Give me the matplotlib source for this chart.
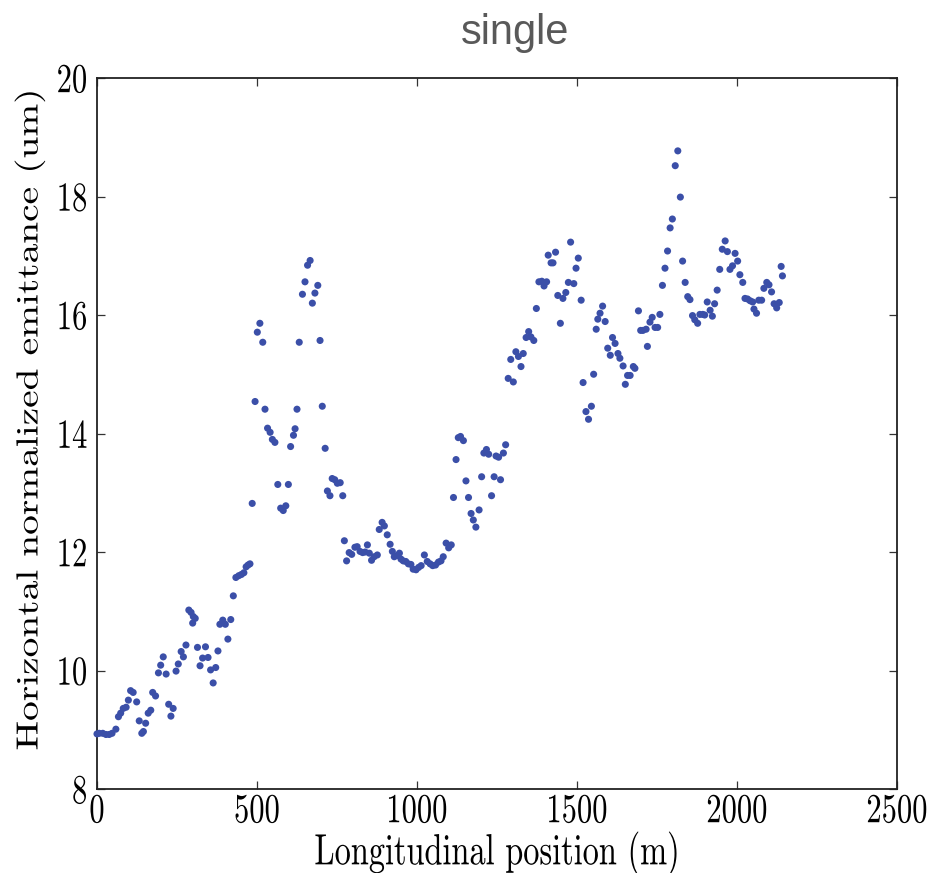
import matplotlib
matplotlib.use("Agg")
import matplotlib.pyplot as plt
from matplotlib.patheffects import AbstractPathEffect
from matplotlib.transforms import Affine2D

# Longitudinal position (m) and horizontal normalized emittance (um)
position = [
    0, 7, 18, 28, 38, 47, 59, 67, 74, 82, 91, 98, 105, 113, 124, 132, 140, 145,
    152, 160, 168, 174, 183, 192, 199, 207, 216, 224, 231, 238, 247, 254, 263,
    270, 278, 287, 294, 299, 301, 307, 314, 322, 330, 339, 347, 355, 363, 371,
    378, 384, 393, 401, 409, 418, 426, 434, 443, 451, 459, 466, 472, 478, 485,
    494, 501, 509, 518, 525, 533, 541, 548, 556, 565, 574, 582, 590, 598, 605,
    614, 619, 625, 632, 642, 650, 658, 666, 673, 681, 690, 697, 704, 713, 720,
    728, 735, 743, 751, 760, 768, 773, 780, 788, 796, 806, 813, 822, 830, 838,
    845, 851, 858, 866, 876, 882, 891, 898, 907, 916, 923, 929, 937, 945, 950,
    957, 965, 973, 981, 988, 997, 1005, 1013, 1023, 1032, 1041, 1049, 1058,
    1067, 1075, 1082, 1091, 1099, 1107, 1114, 1122, 1129, 1136, 1145, 1153,
    1161, 1169, 1176, 1184, 1194, 1202, 1209, 1217, 1224, 1233, 1241, 1247,
    1255, 1261, 1270, 1277, 1285, 1293, 1301, 1309, 1317, 1325, 1332, 1341,
    1349, 1356, 1365, 1373, 1381, 1390, 1397, 1405, 1410, 1419, 1425, 1433,
    1440, 1448, 1456, 1465, 1473, 1480, 1490, 1497, 1504, 1513, 1519, 1528,
    1536, 1545, 1552, 1560, 1565, 1572, 1580, 1588, 1596, 1604, 1611, 1619,
    1628, 1634, 1644, 1651, 1658, 1666, 1676, 1681, 1692, 1699, 1706, 1716,
    1720, 1728, 1735, 1744, 1752, 1759, 1767, 1775, 1783, 1791, 1798, 1807,
    1815, 1823, 1830, 1838, 1846, 1853, 1861, 1868, 1877, 1884, 1893, 1899,
    1907, 1916, 1923, 1930, 1938, 1946, 1954, 1963, 1970, 1978, 1986, 1994,
    2002, 2009, 2018, 2025, 2033, 2041, 2049, 2053, 2061, 2068, 2077, 2084,
    2093, 2100, 2108, 2116, 2124, 2132, 2138, 2142,
]
emittance = [
    8.93, 8.94, 8.94, 8.92, 8.92, 8.94, 9.01, 9.22, 9.28, 9.36, 9.38, 9.50,
    9.66, 9.63, 9.47, 9.15, 8.94, 8.97, 9.11, 9.28, 9.33, 9.63, 9.57, 9.96,
    10.09, 10.23, 9.94, 9.43, 9.23, 9.36, 9.99, 10.11, 10.32, 10.23, 10.43,
    11.02, 10.98, 10.80, 10.91, 10.88, 10.39, 10.08, 10.21, 10.40, 10.22,
    10.01, 9.79, 10.05, 10.33, 10.78, 10.85, 10.78, 10.53, 10.86, 11.26,
    11.57, 11.60, 11.62, 11.65, 11.75, 11.78, 11.80, 12.82, 14.54, 15.71,
    15.86, 15.54, 14.41, 14.09, 14.02, 13.90, 13.85, 13.14, 12.74, 12.70,
    12.78, 13.14, 13.78, 13.97, 14.08, 14.41, 15.54, 16.35, 16.56, 16.84,
    16.92, 16.20, 16.37, 16.50, 15.57, 14.46, 13.75, 13.03, 12.95, 13.24,
    13.22, 13.16, 13.17, 12.95, 12.19, 11.85, 11.99, 11.96, 12.08, 12.09,
    12.01, 11.99, 12.00, 12.12, 11.98, 11.86, 11.92, 11.95, 12.38, 12.50,
    12.44, 12.29, 12.13, 12.01, 11.92, 11.94, 11.98, 11.88, 11.85, 11.84,
    11.80, 11.79, 11.71, 11.70, 11.74, 11.77, 11.95, 11.84, 11.80, 11.77,
    11.78, 11.83, 11.85, 11.92, 12.15, 12.07, 12.12, 12.92, 13.56, 13.93,
    13.95, 13.88, 13.20, 12.92, 12.65, 12.54, 12.42, 12.71, 13.27, 13.67,
    13.73, 13.65, 12.95, 13.27, 13.62, 13.60, 13.22, 13.67, 13.81, 14.93,
    15.25, 14.87, 15.38, 15.30, 15.13, 15.35, 15.62, 15.72, 15.63, 15.57,
    16.11, 16.56, 16.57, 16.49, 16.56, 17.01, 16.88, 16.88, 17.06, 16.33,
    15.86, 16.28, 16.38, 16.55, 17.23, 16.53, 16.79, 16.96, 16.25, 14.86,
    14.37, 14.24, 14.46, 15.00, 15.76, 15.93, 16.03, 16.15, 15.89, 15.44,
    15.32, 15.62, 15.52, 15.35, 15.27, 15.14, 14.83, 14.98, 14.98, 15.13,
    15.10, 16.07, 15.74, 15.74, 15.76, 15.47, 15.88, 15.96, 15.79, 15.79,
    16.01, 16.50, 16.79, 17.08, 17.47, 17.62, 18.52, 18.77, 17.99, 16.91,
    16.55, 16.31, 16.26, 15.99, 15.92, 15.86, 16.01, 16.01, 16.00, 16.22,
    16.08, 15.98, 16.19, 16.42, 16.77, 17.11, 17.25, 17.07, 16.77, 16.83,
    17.04, 16.91, 16.68, 16.55, 16.28, 16.27, 16.24, 16.22, 16.10, 16.03,
    16.25, 16.25, 16.45, 16.55, 16.51, 16.39, 16.19, 16.12, 16.21, 16.82,
    16.66,
]

x_ticks = [0, 500, 1000, 1500, 2000, 2500]
x_tick_labels = ["0", "500", "1000", "1500", "2000", "2500"]
y_ticks = [8, 10, 12, 14, 16, 18, 20]
y_tick_labels = ["8", "10", "12", "14", "16", "18", "20"]

TITLE = "single"
X_LABEL = "Longitudinal position (m)"
Y_LABEL = "Horizontal normalized emittance (um)"


class VerticalStretch(AbstractPathEffect):
    """Stretch a text path vertically (in display space) about its own centre."""

    def __init__(self, factor):
        super().__init__()
        self._factor = factor

    def draw_path(self, renderer, gc, tpath, affine, rgbFace=None):
        verts = tpath.vertices
        if len(verts):
            pts = affine.transform(verts)
            cy = 0.5 * (pts[:, 1].min() + pts[:, 1].max())
            stretch = (Affine2D().translate(0, -cy)
                       .scale(1.0, self._factor).translate(0, cy))
            affine = affine + stretch
        renderer.draw_path(gc, tpath, affine, rgbFace)


cm_font = "cmr10"
tick_size = 22
label_size = 23.3

fig = plt.figure(figsize=(9.35, 8.73), dpi=100)
ax = fig.add_axes([97 / 935, 84 / 873, 800 / 935, 711 / 873])

ax.scatter(position, emittance, s=26, color="#3B4FA8", edgecolors="none",
           zorder=3, clip_on=False)

ax.set_xlim(0, 2500)
ax.set_ylim(8, 20)

ax.set_xticks(x_ticks)
ax.set_xticklabels(x_tick_labels, family=cm_font, fontsize=tick_size,
                   path_effects=[VerticalStretch(1.35)])
ax.set_yticks(y_ticks)
ax.set_yticklabels(y_tick_labels, family=cm_font, fontsize=tick_size,
                   path_effects=[VerticalStretch(1.35)])

ax.tick_params(axis="both", which="major", direction="in", length=6,
               width=0.9, color="#333333", top=True, right=True)
ax.tick_params(axis="x", pad=6)
ax.tick_params(axis="y", pad=7)
ax.minorticks_off()

for spine in ax.spines.values():
    spine.set_linewidth(1.3)
    spine.set_color("#222222")

ax.set_xlabel(X_LABEL, family=cm_font, fontsize=label_size,
              path_effects=[VerticalStretch(1.35)], va="center", ha="center")
ax.xaxis.set_label_coords(0.5, (789 - 853) / 711)
ax.set_ylabel(Y_LABEL, family=cm_font, fontsize=tick_size,
              path_effects=[VerticalStretch(1.29)], va="center", ha="center")
ax.yaxis.set_label_coords((30 - 97) / 800, (789 - 420) / 711)

fig.text(515 / 935, 1 - 33 / 873, TITLE, ha="center", va="center",
         fontsize=30, color="#595959", family="Liberation Sans")

fig.savefig("out.png", dpi=100)
